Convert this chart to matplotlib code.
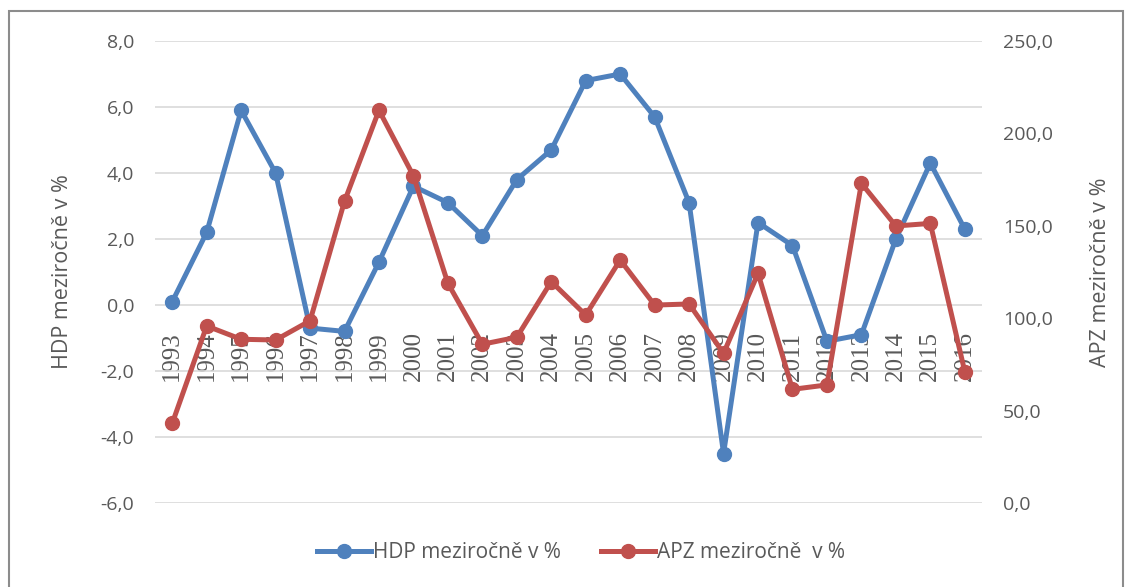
import matplotlib
matplotlib.use("Agg")
import matplotlib.pyplot as plt
from matplotlib.patches import Rectangle
from matplotlib.lines import Line2D

years = [str(y) for y in range(1993, 2017)]
hdp = [0.1, 2.2, 5.9, 4.0, -0.7, -0.8, 1.3, 3.6, 3.1, 2.1, 3.8, 4.7,
       6.8, 7.0, 5.7, 3.1, -4.5, 2.5, 1.8, -1.1, -0.9, 2.0, 4.3, 2.3]
apz = [43.1, 95.8, 88.6, 88.2, 98.6, 163.3, 212.5, 177.0, 118.9, 85.9, 89.7, 119.8,
       101.7, 131.5, 107.1, 107.7, 81.0, 124.3, 61.5, 63.9, 173.0, 149.9, 151.3, 71.1]
left_ticks = [-6, -4, -2, 0, 2, 4, 6, 8]
right_ticks = [0, 50, 100, 150, 200, 250]

BLUE = "#4F81BD"
RED = "#C0504D"
TXT = "#595959"
FONT = ["Open Sans", "DejaVu Sans"]
SERIF = ["Liberation Serif", "DejaVu Serif"]

W, H = 1133, 587
fig = plt.figure(figsize=(W / 100, H / 100), dpi=100)
fig.patches.append(Rectangle((9 / W, -0.05), (1123 - 9) / W, 1 - 11 / H + 0.05,
                             transform=fig.transFigure, fill=False,
                             edgecolor="#8C8C8C", linewidth=1.5))

left, right, top, bottom = 155 / W, 982 / W, 1 - 41 / H, 1 - 503 / H
ax = fig.add_axes([left, bottom, right - left, top - bottom])
ax2 = ax.twinx()

x = list(range(len(years)))
ax.set_xlim(-0.5, len(years) - 0.5)
ax.set_ylim(-6, 8)
ax2.set_ylim(0, 250)

for a in (ax, ax2):
    for s in a.spines.values():
        s.set_visible(False)
ax.spines["bottom"].set_position(("data", 0))

ax.set_yticks(left_ticks)
ax.set_yticklabels([f"{v:.1f}".replace(".", ",") for v in left_ticks],
                   fontsize=14, color=TXT, family=FONT)
ax2.set_yticks(right_ticks)
ax2.set_yticklabels([f"{v:.1f}".replace(".", ",") for v in right_ticks],
                    fontsize=14, color=TXT, family=FONT)
ax.tick_params(axis="y", length=0, pad=15)
ax2.tick_params(axis="y", length=0, pad=15)
ax.grid(axis="y", color="#D9D9D9", linewidth=1.2)
ax.set_axisbelow(True)

ax.set_xticks(x)
ax.set_xticklabels(years, rotation=90, fontsize=18, color=TXT, family=SERIF, va="top")
ax.tick_params(axis="x", length=0, pad=19)

ax.set_ylabel("HDP meziročně v %", fontsize=15.5, color=TXT, family=FONT, labelpad=20)
ax2.set_ylabel("APZ meziročně v %", fontsize=15.5, color=TXT, family=FONT, labelpad=27)

ax.plot(x, hdp, color=BLUE, linewidth=3.6, marker="o", markersize=10, zorder=3)
ax2.plot(x, apz, color=RED, linewidth=3.6, marker="o", markersize=10, zorder=3)

handles = [Line2D([], [], color=BLUE, linewidth=3.6, marker="o", markersize=10),
           Line2D([], [], color=RED, linewidth=3.6, marker="o", markersize=10)]
leg = fig.legend(handles, ["HDP meziročně v %", "APZ meziročně  v %"],
                 loc="center", bbox_to_anchor=(581 / W, 1 - 553 / H), ncol=2,
                 frameon=False, handlelength=2.6, handletextpad=0.1, columnspacing=1.9,
                 prop={"family": FONT, "size": 15})
for t in leg.get_texts():
    t.set_color(TXT)

fig.savefig("out.png", dpi=100)
